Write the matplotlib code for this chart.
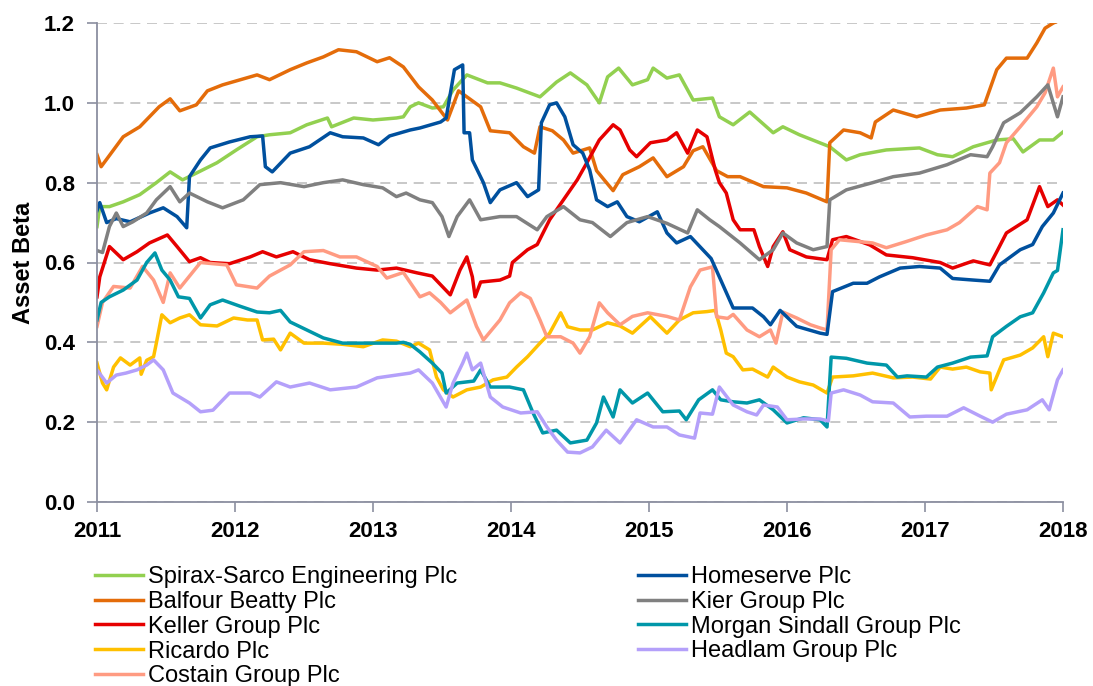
import matplotlib
matplotlib.use("Agg")
import matplotlib.pyplot as plt
import numpy as np

# (decimal year, asset beta)
spirax = [(2011.00, 0.69), (2011.02, 0.74), (2011.09, 0.74), (2011.19, 0.752), (2011.31, 0.77),
          (2011.43, 0.80), (2011.53, 0.827), (2011.62, 0.807), (2011.72, 0.824), (2011.87, 0.85),
          (2012.01, 0.882), (2012.16, 0.915), (2012.25, 0.92), (2012.40, 0.925), (2012.52, 0.945),
          (2012.67, 0.962), (2012.70, 0.94), (2012.86, 0.962), (2013.00, 0.957), (2013.17, 0.962),
          (2013.22, 0.965), (2013.27, 0.99), (2013.33, 1.0), (2013.43, 0.987), (2013.51, 0.99),
          (2013.58, 1.032), (2013.68, 1.07), (2013.83, 1.05), (2013.92, 1.05), (2014.04, 1.037),
          (2014.21, 1.015), (2014.33, 1.052), (2014.43, 1.075), (2014.55, 1.045), (2014.64, 1.0),
          (2014.70, 1.065), (2014.78, 1.087), (2014.88, 1.045), (2014.99, 1.058), (2015.03, 1.087),
          (2015.13, 1.062), (2015.22, 1.07), (2015.32, 1.007), (2015.46, 1.012), (2015.51, 0.965),
          (2015.61, 0.945), (2015.73, 0.977), (2015.90, 0.925), (2015.97, 0.94), (2016.09, 0.92),
          (2016.31, 0.89), (2016.43, 0.857), (2016.53, 0.87), (2016.72, 0.882), (2016.96, 0.887),
          (2017.09, 0.87), (2017.20, 0.865), (2017.35, 0.89), (2017.52, 0.907), (2017.64, 0.91),
          (2017.71, 0.877), (2017.83, 0.907), (2017.93, 0.907), (2018.00, 0.927)]

balfour = [(2011.00, 0.87), (2011.03, 0.84), (2011.19, 0.915), (2011.31, 0.94), (2011.45, 0.99),
           (2011.53, 1.01), (2011.60, 0.98), (2011.72, 0.995), (2011.80, 1.03), (2011.91, 1.045),
           (2012.04, 1.058), (2012.16, 1.07), (2012.25, 1.058), (2012.40, 1.083), (2012.52, 1.10),
           (2012.64, 1.115), (2012.75, 1.133), (2012.88, 1.128), (2013.03, 1.103), (2013.12, 1.113),
           (2013.22, 1.09), (2013.33, 1.04), (2013.43, 1.007), (2013.54, 0.957), (2013.62, 1.03),
           (2013.70, 1.01), (2013.78, 0.99), (2013.85, 0.93), (2013.99, 0.925), (2014.09, 0.89),
           (2014.17, 0.874), (2014.21, 0.94), (2014.30, 0.93), (2014.38, 0.907), (2014.45, 0.874),
           (2014.57, 0.887), (2014.62, 0.83), (2014.74, 0.78), (2014.81, 0.82), (2014.93, 0.84),
           (2015.03, 0.862), (2015.13, 0.815), (2015.25, 0.84), (2015.32, 0.88), (2015.39, 0.89),
           (2015.49, 0.83), (2015.57, 0.815), (2015.66, 0.815), (2015.83, 0.79), (2016.00, 0.787),
           (2016.14, 0.774), (2016.29, 0.752), (2016.31, 0.90), (2016.41, 0.932), (2016.53, 0.925),
           (2016.61, 0.912), (2016.64, 0.952), (2016.77, 0.982), (2016.94, 0.965), (2017.11, 0.982),
           (2017.30, 0.987), (2017.43, 0.995), (2017.52, 1.083), (2017.59, 1.112), (2017.74, 1.112),
           (2017.81, 1.15), (2017.87, 1.187), (2017.93, 1.20), (2018.00, 1.21)]

keller = [(2011.00, 0.514), (2011.02, 0.564), (2011.09, 0.64), (2011.19, 0.607), (2011.29, 0.627),
          (2011.38, 0.649), (2011.51, 0.669), (2011.58, 0.64), (2011.67, 0.602), (2011.75, 0.612),
          (2011.82, 0.60), (2011.96, 0.597), (2012.11, 0.614), (2012.20, 0.627), (2012.30, 0.614),
          (2012.42, 0.627), (2012.54, 0.607), (2012.69, 0.597), (2012.88, 0.586), (2013.03, 0.581),
          (2013.17, 0.586), (2013.32, 0.574), (2013.43, 0.566), (2013.56, 0.519), (2013.63, 0.581),
          (2013.68, 0.614), (2013.72, 0.564), (2013.74, 0.514), (2013.78, 0.551), (2013.92, 0.556),
          (2013.99, 0.566), (2014.01, 0.60), (2014.12, 0.632), (2014.19, 0.645), (2014.28, 0.707),
          (2014.38, 0.757), (2014.48, 0.807), (2014.55, 0.85), (2014.64, 0.907), (2014.74, 0.945),
          (2014.79, 0.932), (2014.86, 0.882), (2014.91, 0.865), (2015.01, 0.90), (2015.13, 0.907),
          (2015.20, 0.925), (2015.28, 0.874), (2015.35, 0.932), (2015.42, 0.915), (2015.48, 0.832),
          (2015.51, 0.80), (2015.56, 0.774), (2015.61, 0.707), (2015.66, 0.682), (2015.76, 0.682),
          (2015.80, 0.64), (2015.86, 0.59), (2015.90, 0.64), (2015.97, 0.677), (2016.02, 0.632),
          (2016.14, 0.614), (2016.29, 0.607), (2016.33, 0.657), (2016.43, 0.665), (2016.60, 0.644),
          (2016.72, 0.619), (2016.91, 0.612), (2017.11, 0.60), (2017.20, 0.586), (2017.35, 0.604),
          (2017.47, 0.594), (2017.52, 0.627), (2017.59, 0.674), (2017.74, 0.707), (2017.83, 0.79),
          (2017.89, 0.74), (2017.96, 0.757), (2018.00, 0.744)]

ricardo = [(2011.00, 0.348), (2011.04, 0.298), (2011.07, 0.281), (2011.12, 0.338), (2011.17, 0.361),
           (2011.24, 0.343), (2011.31, 0.361), (2011.32, 0.32), (2011.36, 0.355), (2011.41, 0.364),
           (2011.43, 0.398), (2011.47, 0.469), (2011.53, 0.449), (2011.60, 0.461), (2011.67, 0.469),
           (2011.75, 0.444), (2011.87, 0.441), (2011.99, 0.461), (2012.09, 0.456), (2012.16, 0.456),
           (2012.20, 0.406), (2012.28, 0.408), (2012.33, 0.381), (2012.40, 0.423), (2012.50, 0.398),
           (2012.64, 0.398), (2012.78, 0.395), (2012.93, 0.389), (2013.07, 0.406), (2013.17, 0.403),
           (2013.27, 0.389), (2013.33, 0.398), (2013.41, 0.381), (2013.46, 0.313), (2013.51, 0.281),
           (2013.58, 0.263), (2013.68, 0.281), (2013.78, 0.288), (2013.87, 0.306), (2013.97, 0.313),
           (2014.04, 0.338), (2014.12, 0.364), (2014.21, 0.398), (2014.28, 0.423), (2014.36, 0.474),
           (2014.41, 0.439), (2014.50, 0.431), (2014.59, 0.431), (2014.70, 0.449), (2014.79, 0.441),
           (2014.88, 0.423), (2015.01, 0.464), (2015.13, 0.423), (2015.22, 0.456), (2015.32, 0.474),
           (2015.42, 0.477), (2015.48, 0.48), (2015.52, 0.431), (2015.56, 0.373), (2015.61, 0.364),
           (2015.68, 0.331), (2015.75, 0.333), (2015.86, 0.313), (2015.90, 0.338), (2016.00, 0.313),
           (2016.09, 0.301), (2016.19, 0.293), (2016.29, 0.273), (2016.33, 0.313), (2016.48, 0.316),
           (2016.62, 0.323), (2016.77, 0.311), (2016.91, 0.313), (2017.04, 0.308), (2017.11, 0.338),
           (2017.20, 0.333), (2017.30, 0.338), (2017.40, 0.326), (2017.47, 0.323), (2017.48, 0.281),
           (2017.57, 0.356), (2017.69, 0.368), (2017.78, 0.386), (2017.86, 0.414), (2017.89, 0.364),
           (2017.93, 0.423), (2018.00, 0.414)]

costain = [(2011.00, 0.44), (2011.04, 0.50), (2011.12, 0.54), (2011.24, 0.536), (2011.33, 0.59),
           (2011.41, 0.556), (2011.48, 0.50), (2011.53, 0.574), (2011.60, 0.536), (2011.75, 0.60),
           (2011.84, 0.597), (2011.94, 0.594), (2012.01, 0.544), (2012.16, 0.536), (2012.25, 0.566),
           (2012.40, 0.594), (2012.50, 0.627), (2012.64, 0.63), (2012.76, 0.614), (2012.88, 0.614),
           (2013.03, 0.59), (2013.10, 0.561), (2013.22, 0.575), (2013.34, 0.514), (2013.41, 0.524),
           (2013.49, 0.50), (2013.56, 0.474), (2013.68, 0.506), (2013.75, 0.44), (2013.80, 0.406),
           (2013.92, 0.456), (2013.99, 0.499), (2014.07, 0.524), (2014.14, 0.51), (2014.21, 0.456),
           (2014.26, 0.414), (2014.36, 0.414), (2014.45, 0.398), (2014.50, 0.373), (2014.57, 0.414),
           (2014.64, 0.499), (2014.70, 0.474), (2014.79, 0.444), (2014.88, 0.465), (2014.99, 0.474),
           (2015.13, 0.465), (2015.22, 0.456), (2015.30, 0.539), (2015.37, 0.581), (2015.46, 0.589),
           (2015.49, 0.464), (2015.57, 0.46), (2015.61, 0.47), (2015.71, 0.431), (2015.80, 0.414),
           (2015.88, 0.431), (2015.92, 0.398), (2015.97, 0.476), (2016.07, 0.461), (2016.17, 0.444),
           (2016.24, 0.436), (2016.29, 0.431), (2016.32, 0.632), (2016.38, 0.657), (2016.53, 0.652),
           (2016.62, 0.649), (2016.72, 0.637), (2016.86, 0.652), (2017.01, 0.669), (2017.16, 0.682),
           (2017.25, 0.70), (2017.38, 0.74), (2017.45, 0.732), (2017.47, 0.824), (2017.54, 0.85),
           (2017.59, 0.90), (2017.69, 0.94), (2017.81, 0.99), (2017.87, 1.025), (2017.93, 1.087),
           (2017.96, 1.015), (2018.00, 1.04)]

homeserve = [(2011.00, 0.73), (2011.02, 0.75), (2011.07, 0.70), (2011.14, 0.71), (2011.24, 0.702),
             (2011.38, 0.724), (2011.48, 0.737), (2011.58, 0.715), (2011.65, 0.687), (2011.67, 0.815),
             (2011.75, 0.857), (2011.82, 0.887), (2011.96, 0.902), (2012.11, 0.915), (2012.20, 0.917),
             (2012.22, 0.84), (2012.27, 0.827), (2012.40, 0.874), (2012.54, 0.89), (2012.69, 0.925),
             (2012.78, 0.915), (2012.93, 0.912), (2013.04, 0.895), (2013.12, 0.917), (2013.27, 0.932),
             (2013.34, 0.937), (2013.49, 0.952), (2013.53, 0.962), (2013.59, 1.083), (2013.65, 1.095),
             (2013.66, 0.925), (2013.70, 0.925), (2013.72, 0.857), (2013.80, 0.80), (2013.85, 0.75),
             (2013.92, 0.782), (2014.04, 0.80), (2014.12, 0.765), (2014.20, 0.782), (2014.22, 0.95),
             (2014.28, 0.995), (2014.33, 1.0), (2014.39, 0.965), (2014.45, 0.895), (2014.52, 0.874),
             (2014.57, 0.832), (2014.62, 0.757), (2014.70, 0.74), (2014.77, 0.752), (2014.84, 0.715),
             (2014.93, 0.702), (2015.06, 0.727), (2015.13, 0.674), (2015.20, 0.649), (2015.30, 0.665),
             (2015.39, 0.632), (2015.45, 0.61), (2015.52, 0.556), (2015.61, 0.486), (2015.75, 0.486),
             (2015.83, 0.464), (2015.88, 0.444), (2015.95, 0.48), (2016.07, 0.44), (2016.24, 0.423),
             (2016.29, 0.42), (2016.33, 0.527), (2016.48, 0.548), (2016.58, 0.548), (2016.67, 0.564),
             (2016.82, 0.586), (2016.96, 0.59), (2017.11, 0.586), (2017.20, 0.56), (2017.35, 0.556),
             (2017.47, 0.553), (2017.54, 0.594), (2017.69, 0.632), (2017.78, 0.645), (2017.85, 0.69),
             (2017.93, 0.724), (2018.00, 0.774)]

kier = [(2011.00, 0.63), (2011.04, 0.625), (2011.09, 0.69), (2011.14, 0.724), (2011.19, 0.69),
        (2011.26, 0.702), (2011.36, 0.724), (2011.43, 0.757), (2011.53, 0.79), (2011.60, 0.752),
        (2011.67, 0.774), (2011.80, 0.752), (2011.91, 0.737), (2012.06, 0.757), (2012.18, 0.795),
        (2012.33, 0.80), (2012.50, 0.79), (2012.64, 0.80), (2012.78, 0.807), (2012.93, 0.795),
        (2013.07, 0.787), (2013.17, 0.765), (2013.24, 0.774), (2013.34, 0.757), (2013.43, 0.75),
        (2013.50, 0.715), (2013.55, 0.665), (2013.61, 0.715), (2013.70, 0.757), (2013.78, 0.707),
        (2013.92, 0.715), (2014.04, 0.715), (2014.19, 0.682), (2014.26, 0.715), (2014.38, 0.74),
        (2014.50, 0.707), (2014.59, 0.70), (2014.72, 0.665), (2014.84, 0.70), (2014.99, 0.715),
        (2015.13, 0.698), (2015.28, 0.674), (2015.35, 0.732), (2015.44, 0.707), (2015.51, 0.69),
        (2015.66, 0.649), (2015.80, 0.607), (2015.90, 0.632), (2015.97, 0.674), (2016.07, 0.649),
        (2016.19, 0.632), (2016.29, 0.64), (2016.31, 0.757), (2016.43, 0.782), (2016.62, 0.80),
        (2016.77, 0.815), (2016.96, 0.824), (2017.16, 0.845), (2017.33, 0.87), (2017.45, 0.865),
        (2017.49, 0.89), (2017.57, 0.95), (2017.69, 0.975), (2017.81, 1.015), (2017.89, 1.045),
        (2017.96, 0.965), (2018.00, 1.015)]

morgan = [(2011.00, 0.456), (2011.03, 0.50), (2011.09, 0.514), (2011.19, 0.531), (2011.29, 0.556),
          (2011.36, 0.60), (2011.42, 0.624), (2011.47, 0.581), (2011.53, 0.556), (2011.59, 0.514),
          (2011.67, 0.51), (2011.75, 0.461), (2011.82, 0.494), (2011.91, 0.506), (2012.04, 0.49),
          (2012.16, 0.476), (2012.25, 0.474), (2012.33, 0.48), (2012.40, 0.451), (2012.52, 0.431),
          (2012.64, 0.411), (2012.78, 0.398), (2012.93, 0.398), (2013.07, 0.398), (2013.17, 0.398),
          (2013.22, 0.40), (2013.27, 0.395), (2013.34, 0.376), (2013.43, 0.348), (2013.50, 0.323),
          (2013.53, 0.273), (2013.61, 0.298), (2013.73, 0.303), (2013.78, 0.331), (2013.85, 0.288),
          (2013.99, 0.288), (2014.09, 0.281), (2014.16, 0.223), (2014.23, 0.173), (2014.33, 0.18),
          (2014.43, 0.148), (2014.55, 0.155), (2014.62, 0.198), (2014.67, 0.263), (2014.74, 0.213),
          (2014.79, 0.281), (2014.88, 0.248), (2014.99, 0.273), (2015.10, 0.226), (2015.22, 0.228),
          (2015.27, 0.206), (2015.36, 0.256), (2015.46, 0.281), (2015.52, 0.256), (2015.61, 0.251),
          (2015.71, 0.248), (2015.80, 0.256), (2015.90, 0.231), (2016.00, 0.198), (2016.12, 0.211),
          (2016.24, 0.206), (2016.29, 0.188), (2016.32, 0.363), (2016.43, 0.36), (2016.58, 0.348),
          (2016.72, 0.343), (2016.80, 0.313), (2016.87, 0.316), (2017.01, 0.313), (2017.09, 0.338),
          (2017.20, 0.348), (2017.33, 0.363), (2017.45, 0.366), (2017.49, 0.414), (2017.59, 0.44),
          (2017.69, 0.464), (2017.78, 0.474), (2017.86, 0.524), (2017.93, 0.574), (2017.96, 0.58),
          (2018.00, 0.682)]

headlam = [(2011.00, 0.331), (2011.07, 0.298), (2011.14, 0.318), (2011.21, 0.323), (2011.29, 0.331),
           (2011.36, 0.343), (2011.41, 0.356), (2011.48, 0.331), (2011.55, 0.273), (2011.67, 0.248),
           (2011.75, 0.226), (2011.84, 0.23), (2011.96, 0.273), (2012.11, 0.273), (2012.18, 0.263),
           (2012.30, 0.301), (2012.40, 0.288), (2012.54, 0.298), (2012.69, 0.281), (2012.88, 0.288),
           (2013.03, 0.311), (2013.17, 0.318), (2013.27, 0.323), (2013.33, 0.331), (2013.43, 0.298),
           (2013.53, 0.238), (2013.58, 0.298), (2013.65, 0.348), (2013.68, 0.373), (2013.72, 0.331),
           (2013.78, 0.348), (2013.85, 0.263), (2013.94, 0.238), (2014.07, 0.223), (2014.19, 0.226),
           (2014.26, 0.188), (2014.33, 0.155), (2014.41, 0.125), (2014.50, 0.123), (2014.59, 0.138),
           (2014.69, 0.18), (2014.79, 0.148), (2014.91, 0.206), (2015.03, 0.188), (2015.13, 0.188),
           (2015.22, 0.168), (2015.33, 0.16), (2015.37, 0.223), (2015.46, 0.22), (2015.51, 0.288),
           (2015.61, 0.243), (2015.71, 0.226), (2015.78, 0.218), (2015.83, 0.243), (2015.93, 0.238),
           (2016.00, 0.206), (2016.12, 0.208), (2016.24, 0.208), (2016.30, 0.203), (2016.32, 0.273),
           (2016.41, 0.281), (2016.53, 0.268), (2016.62, 0.251), (2016.77, 0.248), (2016.89, 0.213),
           (2017.01, 0.215), (2017.16, 0.215), (2017.28, 0.236), (2017.40, 0.215), (2017.49, 0.20),
           (2017.59, 0.22), (2017.74, 0.231), (2017.85, 0.256), (2017.90, 0.231), (2017.96, 0.306),
           (2018.00, 0.331)]

series = [
    ("Spirax-Sarco Engineering Plc", spirax, "#92D050"),
    ("Balfour Beatty Plc", balfour, "#E46C0A"),
    ("Keller Group Plc", keller, "#E60000"),
    ("Ricardo Plc", ricardo, "#FFC000"),
    ("Costain Group Plc", costain, "#FF9B82"),
    ("Homeserve Plc", homeserve, "#00509E"),
    ("Kier Group Plc", kier, "#808080"),
    ("Morgan Sindall Group Plc", morgan, "#0097A9"),
    ("Headlam Group Plc", headlam, "#B4A0FA"),
]

years = list(range(2011, 2019))
y_ticks = [0.0, 0.2, 0.4, 0.6, 0.8, 1.0, 1.2]

plt.rcParams["font.family"] = ["Liberation Sans", "DejaVu Sans"]

fig = plt.figure(figsize=(10.93, 6.86), dpi=100)
ax = fig.add_axes([97 / 1093, 1 - 502 / 686, 966 / 1093, 479 / 686])

lines = []
for name, pts, color in series:
    arr = np.array(pts)
    (ln,) = ax.plot(arr[:, 0], arr[:, 1], color=color, lw=2.5, label=name,
                    solid_joinstyle="round")
    lines.append(ln)

ax.set_xlim(2011, 2018)
ax.set_ylim(0, 1.2)
ax.set_xticks(years)
ax.set_xticklabels([str(y) for y in years])
ax.set_yticks(y_ticks)
ax.set_yticklabels([f"{v:.1f}" for v in y_ticks])
ax.grid(axis="y", color="#BFBFBF", lw=1.2, ls=(0, (6, 4)))
ax.set_axisbelow(True)

spine_col = "#8B8FA0"
for side in ("top", "right"):
    ax.spines[side].set_visible(False)
for side in ("left", "bottom"):
    ax.spines[side].set_color(spine_col)
    ax.spines[side].set_linewidth(1.3)

ax.tick_params(axis="both", direction="out", length=7, width=1.2, color=spine_col,
               labelsize=16)
ax.tick_params(axis="y", pad=9)
ax.tick_params(axis="x", pad=7)
for lab in ax.get_xticklabels() + ax.get_yticklabels():
    lab.set_fontweight("bold")

ax.set_ylabel("Asset Beta", fontsize=17, fontweight="bold", labelpad=6)

leg_kw = dict(frameon=False, fontsize=17, handlelength=2.05, handletextpad=0.2,
              labelspacing=0.12, borderpad=0, borderaxespad=0, loc="upper left")
fig.legend(lines[:5], [s[0] for s in series[:5]],
           bbox_to_anchor=(95 / 1093, 1 - 566 / 686), **leg_kw)
fig.legend(lines[5:], [s[0] for s in series[5:]],
           bbox_to_anchor=(638 / 1093, 1 - 566 / 686), **leg_kw)

fig.savefig("out.png", dpi=100)
